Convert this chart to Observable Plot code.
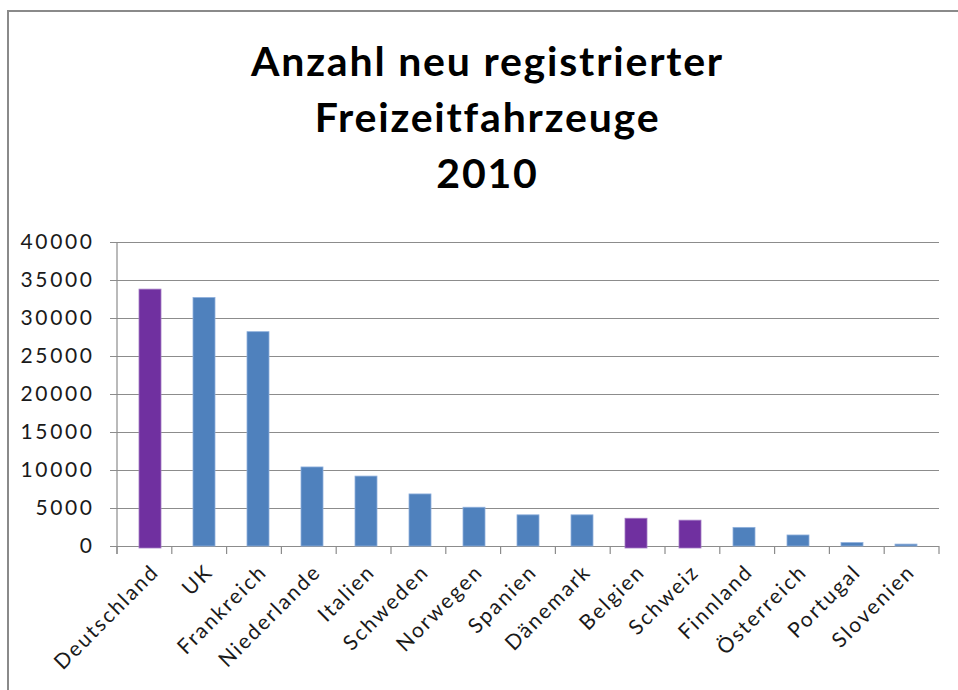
<!DOCTYPE html>
<html>
<head>
<meta charset="utf-8">
<script src="https://cdn.jsdelivr.net/npm/d3@7"></script>
<script src="https://cdn.jsdelivr.net/npm/@observablehq/plot@0.6"></script>
<style>
  html, body { margin: 0; padding: 0; background: #fff; }
  body { width: 958px; height: 690px; overflow: hidden; position: relative; font-family: Lato, "Open Sans", sans-serif; }
  #frame { position: absolute; left: 7px; top: 10px; width: 1000px; height: 1000px; border-left: 2px solid #8a8a8a; border-top: 2px solid #8a8a8a; box-sizing: border-box; }
  #title { position: absolute; left: 0; top: 33px; width: 975px; text-align: center; font-weight: 700; font-size: 41px; line-height: 56px; letter-spacing: 1.8px; color: #000; }
  #chart { position: absolute; left: 0; top: 220px; }
  #chart svg text { letter-spacing: 2px; }
  #chart svg g[aria-label="y-axis tick label"] text { letter-spacing: 2.6px; }
</style>
</head>
<body>
<div id="frame"></div>
<div id="title">Anzahl neu registrierter<br>Freizeitfahrzeuge<br>2010</div>
<div id="chart"></div>
<script>
const countries = ["Deutschland", "UK", "Frankreich", "Niederlande", "Italien", "Schweden", "Norwegen", "Spanien", "Dänemark", "Belgien", "Schweiz", "Finnland", "Österreich", "Portugal", "Slovenien"];
const registrations = [33800, 32700, 28200, 10400, 9200, 6850, 5100, 4100, 4100, 3650, 3400, 2450, 1450, 450, 250];
const highlighted = ["Deutschland", "Belgien", "Schweiz"];
const yTicks = [0, 5000, 10000, 15000, 20000, 25000, 30000, 35000, 40000];

const blue = "#4F81BD";
const purple = "#7030A0";
const gridColor = "#8c8c8c";

const data = countries.map((c, i) => ({country: c, value: registrations[i], hl: highlighted.includes(c)}));

function categoryTicks(index, scales, values, dims) {
  const {width, marginLeft, marginRight} = dims;
  const n = countries.length;
  const step = (width - marginLeft - marginRight) / n;
  const y0 = scales.y(0);
  const yTop = scales.y(d3.max(yTicks));
  const g = d3.create("svg:g").attr("stroke", gridColor).attr("stroke-width", 1.2);
  g.append("line").attr("x1", marginLeft).attr("x2", marginLeft).attr("y1", yTop).attr("y2", y0 + 8);
  for (let i = 0; i <= n; i++) {
    const x = marginLeft + i * step;
    g.append("line").attr("x1", x).attr("x2", x).attr("y1", y0).attr("y2", y0 + 8);
  }
  return g.node();
}

const plot = Plot.plot({
  width: 958,
  height: 470,
  marginTop: 22,
  marginBottom: 144,
  marginLeft: 117,
  marginRight: 19,
  style: {fontFamily: "Lato, 'Open Sans', sans-serif", fontSize: "21px", color: "#1a1a1a", background: "transparent"},
  x: {domain: countries, paddingInner: 0.6, paddingOuter: 0.3, label: null},
  y: {domain: [0, 40000], label: null},
  marks: [
    Plot.gridY(yTicks, {stroke: gridColor, strokeOpacity: 1, strokeWidth: 1.2}),
    Plot.ruleY([0], {stroke: gridColor, strokeWidth: 1.2}),
    Plot.barY(data.filter(d => !d.hl), {x: "country", y: "value", fill: blue, stroke: "#8fb0dc", strokeWidth: 0.8}),
    Plot.barY(data.filter(d => d.hl), {x: "country", y: "value", fill: purple, stroke: "#a37cc4", strokeWidth: 0.8, insetBottom: -2}),
    categoryTicks,
    Plot.axisY(yTicks, {tickSize: 7, tickPadding: 16, stroke: gridColor, tickFormat: d => String(d), fontSize: 21, label: null}),
    Plot.axisX({tickSize: 0, tickRotate: -45, tickPadding: 22, dx: 5, fontSize: 21, label: null})
  ]
});
document.getElementById("chart").appendChild(plot);
</script>
</body>
</html>
